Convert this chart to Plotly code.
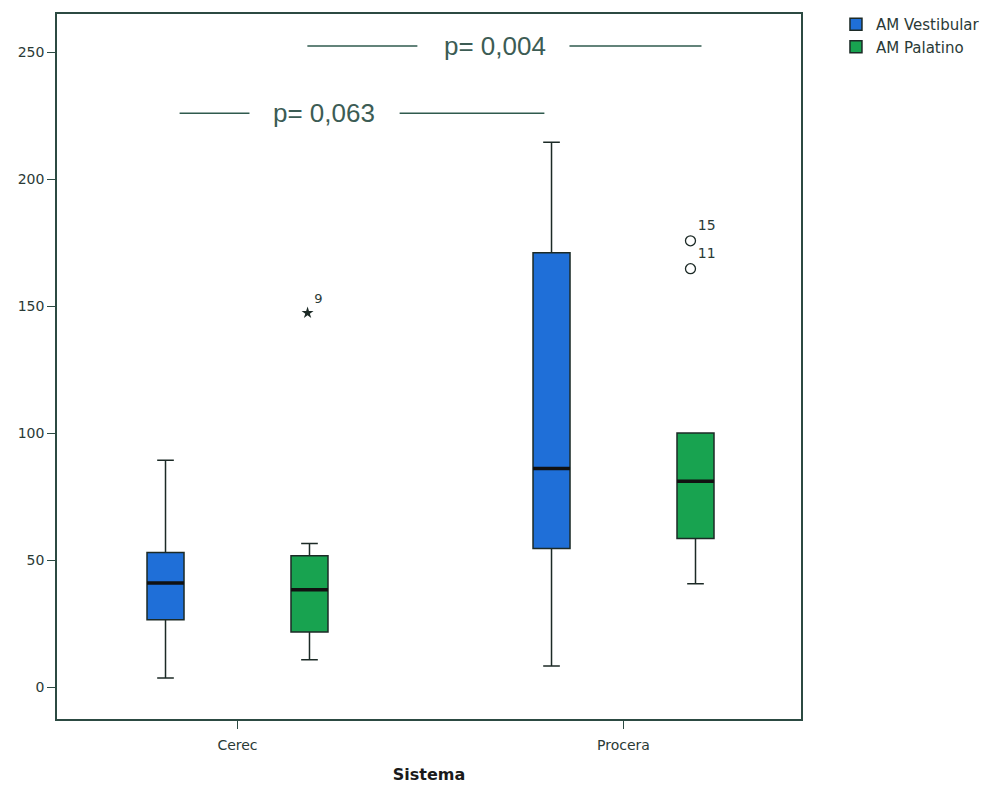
import plotly.graph_objects as go

# ---- data ----
categories = ["Cerec", "Procera"]
cat_pos = [0, 1]
series_names = ["AM Vestibular", "AM Palatino"]
colors = ["#1f6fd8", "#18a350"]

# box statistics [Cerec, Procera]
vest_low = [3.5, 8.3]
vest_q1 = [26.5, 54.5]
vest_med = [41.0, 86.0]
vest_q3 = [53.0, 171.0]
vest_up = [89.3, 214.5]

pal_low = [10.7, 40.7]
pal_q1 = [21.7, 58.5]
pal_med = [38.3, 81.0]
pal_q3 = [51.7, 100.0]
pal_up = [56.5, 100.0]

# outliers (AM Palatino)
extreme_cat = [0]
extreme_val = [147.3]
extreme_lbl = ["9"]
outlier_cat = [1, 1]
outlier_val = [175.7, 164.7]
outlier_lbl = ["15", "11"]

yticks = [0, 50, 100, 150, 200, 250]

# layout constants
OFF = 0.1865      # half distance between grouped boxes
BW = 0.096        # box width (data units)
AX = "#2c4a42"
SANS = "DejaVu Sans, Verdana, sans-serif"

fig = go.Figure()
stats = [
    (vest_low, vest_q1, vest_med, vest_q3, vest_up),
    (pal_low, pal_q1, pal_med, pal_q3, pal_up),
]
for i, (lo, q1, me, q3, up) in enumerate(stats):
    fig.add_trace(go.Box(
        x=cat_pos, q1=q1, median=me, q3=q3, lowerfence=lo, upperfence=up,
        name=series_names[i], fillcolor=colors[i],
        line=dict(color="#1c2a26", width=1.5), whiskerwidth=0.45,
        offsetgroup=str(i), boxpoints=False, hoverinfo="y",
    ))

# thick median lines
for i, (lo, q1, me, q3, up) in enumerate(stats):
    sgn = -1 if i == 0 else 1
    for c, m in zip(cat_pos, me):
        xc = c + sgn * OFF
        fig.add_trace(go.Scatter(
            x=[xc - BW / 2, xc + BW / 2], y=[m, m], mode="lines",
            line=dict(color="#111111", width=3.5), showlegend=False, hoverinfo="skip"))

# outliers
fig.add_trace(go.Scatter(
    x=[c + OFF - 0.005 for c in extreme_cat], y=extreme_val, mode="markers+text",
    marker=dict(symbol="star", size=9, color="#1c2a26"),
    text=extreme_lbl, textposition="top right",
    textfont=dict(size=13, color="#2a3a36", family=SANS),
    showlegend=False))
fig.add_trace(go.Scatter(
    x=[c + OFF - 0.013 for c in outlier_cat], y=outlier_val, mode="markers+text",
    marker=dict(symbol="circle-open", size=10, color="#1c2a26", line=dict(width=1.3)),
    text=outlier_lbl, textposition="top right",
    textfont=dict(size=14, color="#2a3a36", family=SANS),
    showlegend=False))

# significance brackets
sig = [
    dict(y=252.4, segs=[(0.181, 0.466), (0.860, 1.202)], tx=0.666, label="p= 0,004"),
    dict(y=225.9, segs=[(-0.150, 0.031), (0.420, 0.795)], tx=0.225, label="p= 0,063"),
]
shapes = []
annotations = []
for s in sig:
    for a, b in s["segs"]:
        shapes.append(dict(type="line", xref="x", yref="y", x0=a, x1=b, y0=s["y"], y1=s["y"],
                           line=dict(color="#2f5a4e", width=1.5)))
    annotations.append(dict(x=s["tx"], y=s["y"], xref="x", yref="y", text=s["label"],
                            showarrow=False,
                            font=dict(size=26, color="#3c5c54",
                                      family="Liberation Sans, Arial, sans-serif")))

fig.update_layout(
    width=978, height=776,
    margin=dict(l=49, r=185, t=6, b=65),
    paper_bgcolor="white", plot_bgcolor="white",
    font=dict(family=SANS, color="#2a3a36", size=13),
    boxmode="group", boxgap=0.254, boxgroupgap=0.743,
    shapes=shapes, annotations=annotations,
    showlegend=True,
    legend=dict(xref="container", yref="container", x=0.8466, y=1.0155,
                xanchor="left", yanchor="top", font=dict(size=15, family=SANS),
                tracegroupgap=0, itemwidth=30, bgcolor="rgba(0,0,0,0)"),
    xaxis=dict(range=[-0.4676, 1.4598], tickvals=cat_pos, ticktext=categories,
               showline=True, linecolor=AX, linewidth=1.5, mirror=True,
               ticks="outside", ticklen=8, tickcolor=AX, showgrid=False, zeroline=False,
               ticklabelstandoff=4, automargin=False,
               title=dict(text="<b>Sistema</b>", font=dict(size=16, family=SANS,
                                                          color="#1a1a1a"), standoff=22),
               tickfont=dict(size=14)),
    yaxis=dict(range=[-12.6, 265.0], tickvals=yticks, automargin=False,
               showline=True, linecolor=AX, linewidth=1.5, mirror=True,
               ticks="outside", ticklen=8, tickcolor=AX, showgrid=False, zeroline=False,
               tickfont=dict(size=14)),
)

fig.write_html("out.html")
